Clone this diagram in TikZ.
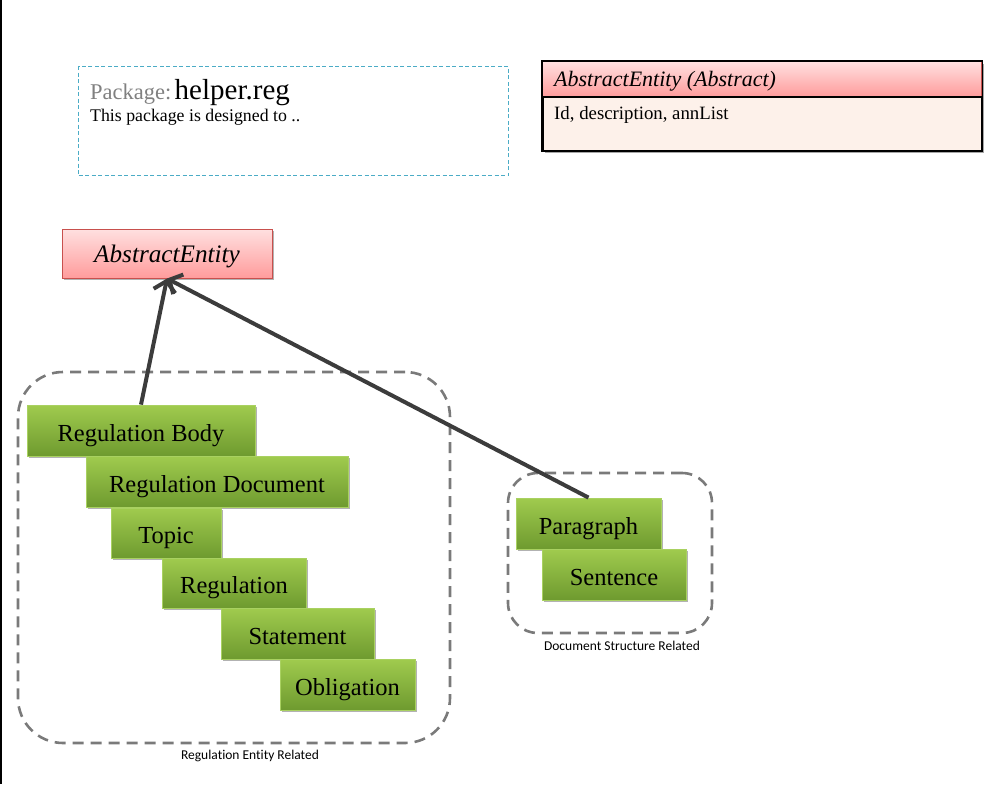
\documentclass[tikz,border=0pt]{standalone}
\usepackage{fontspec}
\setmainfont{Liberation Serif}
\newfontfamily\labelfont[Ligatures=NoCommon]{Carlito}
\usetikzlibrary{arrows.meta,shadows}

\definecolor{greentop}{HTML}{A0CB4E}
\definecolor{greenbot}{HTML}{6E9A2F}
\definecolor{greenedge}{HTML}{A9D161}
\definecolor{pinktop}{HTML}{FFE0E0}
\definecolor{pinkbot}{HTML}{FF9C9C}
\definecolor{pinkedge}{HTML}{C8504D}
\definecolor{bodyfill}{HTML}{FDF1EA}
\definecolor{pkgedge}{HTML}{4BACC6}
\definecolor{groupedge}{HTML}{7A7A7A}
\definecolor{arrowgray}{HTML}{3C3C3C}

\tikzset{
  entity/.style={draw=greenedge, line width=0.8pt, top color=greentop, bottom color=greenbot,
    minimum height=51pt, inner sep=0pt, text height=23pt, text depth=2pt,
    font=\fontsize{24.5}{28}\selectfont,
    drop shadow={shadow xshift=2pt, shadow yshift=-2pt, opacity=0.3, fill=black}},
  abstractbox/.style={draw=pinkedge, line width=1pt, top color=pinktop, bottom color=pinkbot,
    inner sep=0pt, drop shadow={shadow xshift=2pt, shadow yshift=-2pt, opacity=0.3, fill=black}},
  groupbox/.style={draw=groupedge, line width=2.6pt, dash pattern=on 11pt off 7pt,
    rounded corners=45pt, inner sep=0pt},
  smallgroup/.style={groupbox, rounded corners=30pt},
  grouplabel/.style={font=\labelfont\fontsize{13.5}{15}\selectfont, inner sep=0pt},
  inherit/.style={draw=arrowgray, line width=4pt,
    -{Straight Barb[length=10pt, width=22pt, line width=4pt]}},
}

\begin{document}
\begin{tikzpicture}[x=1pt, y=-1pt]
\useasboundingbox (0,0) rectangle (998,784);

% left page edge
\draw[line width=2pt] (1,0) coordinate (edgetop) -- (1,784) coordinate (edgebot);

% package description
\node[draw=pkgedge, line width=1.2pt, dash pattern=on 4pt off 2.5pt, anchor=north west,
      minimum width=430pt, minimum height=109pt, inner sep=0pt] (pkg) at (78,66) {};
\node[anchor=base west, inner sep=0pt] (pkgtitle) at (90,99)
  {\textcolor{gray}{\fontsize{22.5}{26}\selectfont Package:} \fontsize{29}{33}\selectfont helper.reg};
\node[anchor=base west, inner sep=0pt, font=\fontsize{17.8}{20}\selectfont] (pkgtext) at (90,121)
  {This package is designed to ..};

% class card
\node[draw=black, line width=1.5pt, fill=bodyfill, anchor=north west,
      minimum width=439pt, minimum height=89pt, inner sep=0pt,
      drop shadow={shadow xshift=2pt, shadow yshift=-2pt, opacity=0.35, fill=black}] (card) at (542,61) {};
\node[draw=pinkedge, line width=1pt, top color=pinktop, bottom color=pinkbot, anchor=north west,
      minimum width=439pt, minimum height=35pt, inner sep=0pt] (cardhead) at (542,61) {};
\draw[black, line width=1.5pt] (cardhead.south west) -- (cardhead.south east);
\draw[black, line width=1.5pt] (card.north west) rectangle (card.south east);
\node[anchor=base west, inner sep=0pt, font=\itshape\fontsize{22}{26}\selectfont] (cardtitle) at (554,86)
  {AbstractEntity (Abstract)};
\node[anchor=base west, inner sep=0pt, font=\fontsize{18.8}{22}\selectfont] (cardtext) at (554,119)
  {Id, description, annList};

% abstract entity
\node[abstractbox, minimum width=210pt, minimum height=49pt, text height=20pt, text depth=3pt,
      font=\itshape\fontsize{25.2}{29}\selectfont] (ae) at (167,253.5) {AbstractEntity};

% groups
\node[groupbox, minimum width=432pt, minimum height=371pt] (reggroup) at (234,557.5) {};
\node[grouplabel] (reglabel) at (250,756) {Regulation Entity Related};
\node[smallgroup, minimum width=204pt, minimum height=160pt] (docgroup) at (610,553) {};
\node[grouplabel] (doclabel) at (622,646) {Document Structure Related};

% regulation entities
\node[entity, minimum width=228pt] (rb)  at (141,430.5) {Regulation Body};
\node[entity, minimum width=262pt] (rd)  at (217,481.5) {Regulation Document};
\node[entity, minimum width=110pt, minimum height=50pt] (top) at (166,533) {Topic};
\node[entity, minimum width=144pt, minimum height=50pt] (reg) at (234,583) {Regulation};
\node[entity, minimum width=153pt] (st)  at (297.5,633.5) {Statement};
\node[entity, minimum width=135pt] (ob)  at (347.5,684.5) {Obligation};

% document structure entities
\node[entity, minimum width=145pt] (par) at (588.5,523.5) {Paragraph};
\node[entity, minimum width=144pt] (sen) at (614,574.5) {Sentence};

% inheritance
\draw[inherit] (rb.north) -- (ae.south);
\draw[inherit] (par.north) -- (ae.south);
\end{tikzpicture}
\end{document}
